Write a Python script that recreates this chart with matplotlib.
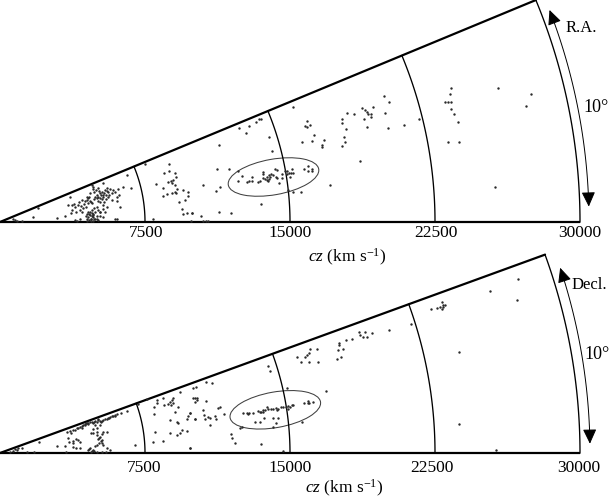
import numpy as np
import matplotlib
matplotlib.use("Agg")
import matplotlib.pyplot as plt
from matplotlib.patches import Ellipse, FancyArrowPatch
from matplotlib.path import Path

plt.rcParams['font.family'] = ['Liberation Serif', 'DejaVu Serif']
plt.rcParams['mathtext.fontset'] = 'custom'
plt.rcParams['mathtext.rm'] = 'Liberation Serif'
plt.rcParams['mathtext.it'] = 'Liberation Serif:italic'

# Galaxy positions, in thirds of a pixel (1740 units = 30000 km/s)
top_near_x = [45,40,52,65,100,115,172,195,210,205,215,212,222,238,245,228,240,250,262,268,275,280,282,290,295,300,305,310,315,320,325,330,335,340,345,355,368,392,380,308,352,335,320,308,300,290,282,272,265,258,265,270,275,280,285,272,265,262,240,232,225,308,295,345,350,360,350,358,300,295,305,318,325,312,290,285,270,262,255,235,215,245,275,295,300,290,278,278,288,298,303,312,322,328,283,293,308,318,270,276,264,252,244,226,300,310,316,280,268,258,262,272,282,290,300,262,270,276,284,268,274,280]
top_near_y = [6,8,4,4,14,41,11,19,76,51,51,26,54,61,66,31,36,41,66,76,111,106,91,81,101,86,91,76,96,101,91,98,86,96,91,98,104,103,141,116,76,66,44,51,61,46,41,61,71,46,31,21,26,14,8,8,14,4,8,4,6,14,6,9,9,46,64,81,71,64,68,81,76,61,71,76,86,76,64,51,36,29,36,36,18,18,4,100,96,92,82,86,92,82,70,76,80,70,64,58,56,54,48,44,30,40,30,24,24,18,10,10,10,10,30,24,30,18,30,6,4,20]
top_mid_x = [435,467,508,492,507,525,527,520,512,505,515,525,530,527,490,490,500,515,525,548,563,563,555,537,545,548,562,577,460,572]
top_mid_y = [173,113,174,148,154,146,136,126,124,121,116,111,98,88,101,79,83,86,91,96,91,79,66,59,39,24,26,28,8,4]
top_far_x = [878,778,783,768,747,718,737,807,657,817,922,930,915,920,943,907,935,971,966,966,1040,1026,1027,1038,1032,1034,1025,1062,1087,1095,1100,1105,1114,1119,1151,1168,1156,1091,1112,1102,1163,1212,1079,989]
top_far_y = [344,308,308,301,288,283,266,256,232,214,302,292,289,285,261,241,244,245,231,225,327,308,298,279,256,241,228,323,341,336,329,324,324,346,379,361,326,310,316,284,282,291,183,112]
top_clump_x = [651,687,713,726,715,740,748,756,757,775,780,790,790,788,796,802,807,813,818,800,807,810,805,825,832,827,832,838,845,845,855,862,860,870,868,877,880,873,911,924,925,937,935,865,880,903,610,648,660,782,657,692,575,604,608,618,624]
top_clump_y = [159,160,152,137,124,121,123,135,123,119,124,149,143,133,130,136,141,143,141,126,128,134,123,158,155,136,131,118,143,131,154,154,144,136,148,158,146,148,160,168,154,160,154,96,90,90,110,93,105,53,31,28,28,17,2,4,4]
top_edge_x = [1257,1352,1350,1334,1343,1354,1352,1363,1374,1343,1378,1495,1592,1579,1485]
top_edge_y = [308,402,384,359,359,361,340,323,301,240,240,401,385,349,106]

bot_near_x = [30,40,45,50,55,65,80,102,118,172,195,197,205,208,220,228,235,240,218,218,228,240,200,210,220,232,240,250,258,265,275,283,290,300,310,320,330,340,350,362,382,255,265,295,305,325,345,235,245,285,300,290,280,272,310,320,290,300,295,305,298,305,292,285,310,320,330,265,270,275,282,290,305,318,405,415,246,254,262,270,278,286,294,302,314,326,336,344,226,212,280,292,306,296,302,266,272,278]
bot_near_y = [4,7,11,9,14,14,4,4,32,22,22,4,44,32,36,41,39,34,29,19,16,14,64,66,69,76,79,84,89,91,94,94,94,97,99,101,107,111,117,119,127,84,86,101,96,104,114,74,76,84,84,74,59,59,64,64,54,49,41,39,31,29,24,21,24,14,9,9,14,7,7,4,4,4,24,147,80,86,90,92,90,96,98,94,102,106,110,112,70,60,72,62,58,44,36,12,4,10]
bot_mid_x = [440,462,470,490,505,510,515,518,512,520,535,540,585,590,580,472,492,525,463,510,530,535,570,565,560,585,465,510,530,540,545,560,460,490,570]
bot_mid_y = [161,139,149,164,147,154,159,149,144,164,139,184,164,159,194,159,144,124,116,99,94,89,119,111,102,102,64,61,54,59,69,66,34,37,14]
bot_far_x = [570,587,617,635,580,590,585,618,608,655,660,570,585,612,615,625,630,645,648,672,630,805,810,892,902,915,920,928,930,950,927,955,1017,1017,1038,1057,1077,1080,1095,1100,1115,1090,1015,1030,1010,1022,1168,977,862]
bot_far_y = [14,197,214,209,166,164,154,157,129,134,137,121,101,114,101,107,104,111,101,116,84,261,247,287,274,289,294,299,311,312,274,274,331,324,339,341,364,354,364,347,361,347,309,311,282,287,369,186,196]
bot_clump_x = [730,740,748,758,775,780,788,795,802,805,812,820,828,835,842,848,858,865,870,875,880,865,782,790,830,912,925,928,938,925,745,765,780,792,820,835,828,820,725,720,692,695,705,783,848,905]
bot_clump_y = [121,121,119,121,127,124,129,129,137,131,131,131,134,131,137,137,139,141,137,144,144,132,124,124,129,151,156,149,154,151,117,94,92,104,104,104,91,79,79,74,57,44,31,26,7,94]
bot_edge_x = [1233,1293,1310,1320,1325,1325,1330,1335,1328,1470,1553,1551,1378,1378,1489]
bot_edge_y = [387,432,436,439,454,431,439,444,444,485,522,458,302,88,9]

cz_ticks = [7500, 15000, 22500, 30000]
tick_labels = ['7500', '15000', '22500', '30000']

W, H = 609, 498
S = 30000 / 580.0          # km/s per pixel
U = S / 3.0                # km/s per data unit above
fig = plt.figure(figsize=(W / 100, H / 100), dpi=100)
fig.patch.set_facecolor('white')


def panel(y_top, y_bot, base, wedge_deg, xs, ys, ell_xy, arrow_r, arrow_th, name,
          name_xy, ten_xy, tick_x, label_xy, tick_y):
    ax = fig.add_axes([0, 1 - y_bot / H, 1, (y_bot - y_top) / H])
    ax.set_xlim(0, W * S)
    ax.set_ylim((base - y_bot) * S, (base - y_top) * S)
    ax.axis('off')
    th = np.radians(wedge_deg)
    R = cz_ticks[-1]
    ax.plot([0, R * np.cos(th)], [0, R * np.sin(th)], color='k', lw=1.6, solid_capstyle='round')
    ax.plot([0, R], [0, 0], color='k', lw=1.6, solid_capstyle='butt')
    t = np.linspace(0, th, 60)
    for r in cz_ticks:
        ax.plot(r * np.cos(t), r * np.sin(t), color='k', lw=0.95)
    ax.scatter(np.array(xs) * U, np.array(ys) * U, s=3.0, c='#2a2a2a', linewidths=0, zorder=3)
    ax.add_patch(Ellipse((ell_xy[0] * S, ell_xy[1] * S), 2 * 45.9 * S, 2 * 17.8 * S, angle=10,
                         fill=False, ec='#404040', lw=0.75))
    a = np.radians(np.linspace(arrow_th[0], arrow_th[1], 40))
    rr = arrow_r * S
    verts = np.column_stack([rr * np.cos(a), rr * np.sin(a)])
    ax.add_patch(FancyArrowPatch(path=Path(verts), arrowstyle='<|-|>,head_length=9,head_width=4.2',
                                 mutation_scale=1, color='k', lw=0.7, shrinkA=0, shrinkB=0, zorder=4))
    for v, lab, px in zip(cz_ticks, tick_labels, tick_x):
        ax.text(px * S, tick_y * S, lab, ha='center', va='center', fontsize=12.5)
    ax.text(label_xy[0] * S, label_xy[1] * S, r'$cz$ (km s$^{-1}$)', ha='center', va='center', fontsize=12.5)
    ax.text(name_xy[0] * S, name_xy[1] * S, name, ha='center', va='center', fontsize=12)
    ax.text(ten_xy[0] * S, ten_xy[1] * S, '10°', ha='center', va='center', fontsize=13)
    return ax


panel(0, 249, 222, 22.5,
      top_near_x + top_mid_x + top_far_x + top_clump_x + top_edge_x,
      top_near_y + top_mid_y + top_far_y + top_clump_y + top_edge_y,
      (273.5, 45), 589, (1.5, 21.1), 'R.A.', (581, 194), (596, 114),
      [146, 290, 436, 580], (347, -35.5), -11)
panel(249, 498, 453, 20.0,
      bot_near_x + bot_mid_x + bot_far_x + bot_clump_x + bot_edge_x,
      bot_near_y + bot_mid_y + bot_far_y + bot_clump_y + bot_edge_y,
      (275.3, 43.2), 590, (0.9, 18.3), 'Decl.', (589, 168), (597, 99),
      [144, 290, 432, 579], (344, -35.5), -14.5)

fig.savefig('out.png', dpi=100, facecolor='white')
